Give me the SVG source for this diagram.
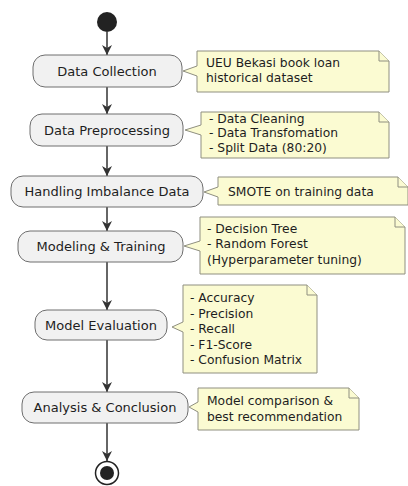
<svg xmlns="http://www.w3.org/2000/svg" width="408" height="486" viewBox="0 0 408 486">
<defs>
<style>
.act{fill:#f1f1f1;stroke:#6e6e6e;stroke-width:1}
.at{font-family:"DejaVu Sans","Open Sans",sans-serif;font-size:13px;fill:#1e1e1e;text-anchor:middle}
.note{fill:#fbfbd2;stroke:#8f8f80;stroke-width:1}
.nt{font-family:"DejaVu Sans","Open Sans",sans-serif;font-size:12.3px;fill:#1e1e1e}
.ln{stroke:#333;stroke-width:1.5;fill:none}
</style>
<marker id="ah" viewBox="0 0 10 10" refX="10" refY="5" markerWidth="10" markerHeight="10" markerUnits="userSpaceOnUse" orient="auto">
<path d="M0,0 L10,5 L0,10 L3,5 Z" fill="#333"/>
</marker>
</defs>
<rect width="408" height="486" fill="#ffffff"/>
<g id="connectors">
<line class="ln" x1="107" y1="32" x2="107" y2="55" marker-end="url(#ah)"/>
<line class="ln" x1="107" y1="87" x2="107" y2="114" marker-end="url(#ah)"/>
<line class="ln" x1="107" y1="146" x2="107" y2="176" marker-end="url(#ah)"/>
<line class="ln" x1="107" y1="207" x2="107" y2="231" marker-end="url(#ah)"/>
<line class="ln" x1="107" y1="262" x2="107" y2="310" marker-end="url(#ah)"/>
<line class="ln" x1="107" y1="340" x2="107" y2="392" marker-end="url(#ah)"/>
<line class="ln" x1="107" y1="423" x2="107" y2="461" marker-end="url(#ah)"/>
</g>
<g id="start"><circle cx="107" cy="22" r="10" fill="#222"/></g>
<g id="n1">
<rect class="act" x="33" y="55" width="149" height="32" rx="12"/>
<text class="at" x="107" y="76">Data Collection</text>
</g>
<g id="note1">
<path class="note" d="M197,51 H379 L389,61 V92 H197 V76 L183,71 L197,66 Z"/>
<path class="note" d="M379,51 V61 H389"/>
<text class="nt" x="206" y="67">UEU Bekasi book loan<tspan x="206" dy="15">historical dataset</tspan></text>
</g>
<g id="n2">
<rect class="act" x="30" y="114" width="153" height="32" rx="12"/>
<text class="at" x="107" y="135">Data Preprocessing</text>
</g>
<g id="note2">
<path class="note" d="M201,112 H379 L389,122 V158 H201 V135 L185,130 L201,125 Z"/>
<path class="note" d="M379,112 V122 H389"/>
<text class="nt" x="209" y="122.5">- Data Cleaning<tspan x="209" dy="14.5">- Data Transfomation</tspan><tspan x="209" dy="14.5">- Split Data (80:20)</tspan></text>
</g>
<g id="n3">
<rect class="act" x="11" y="176" width="192" height="31" rx="12"/>
<text class="at" x="107" y="196">Handling Imbalance Data</text>
</g>
<g id="note3">
<path class="note" d="M218,177 H398 L408,187 V205 H218 V197 L204,192 L218,187 Z"/>
<path class="note" d="M398,177 V187 H408"/>
<text class="nt" x="228" y="196">SMOTE on training data</text>
</g>
<g id="n4">
<rect class="act" x="18" y="231" width="165" height="31" rx="12"/>
<text class="at" x="101" y="251">Modeling &amp; Training</text>
</g>
<g id="note4">
<path class="note" d="M200,217 H395 L405,227 V274 H200 V251 L184,246 L200,241 Z"/>
<path class="note" d="M395,217 V227 H405"/>
<text class="nt" x="207" y="233">- Decision Tree<tspan x="207" dy="15">- Random Forest</tspan><tspan x="207" dy="16">(Hyperparameter  tuning)</tspan></text>
</g>
<g id="n5">
<rect class="act" x="35" y="310" width="132" height="30" rx="12"/>
<text class="at" x="101" y="330">Model Evaluation</text>
</g>
<g id="note5">
<path class="note" d="M183,285 H307 L317,295 V373 H183 V332 L172,327 L183,322 Z"/>
<path class="note" d="M307,285 V295 H317"/>
<text class="nt" x="190" y="302">- Accuracy<tspan x="190" dy="15.5">- Precision</tspan><tspan x="190" dy="15.5">- Recall</tspan><tspan x="190" dy="15.5">- F1-Score</tspan><tspan x="190" dy="15.5">- Confusion Matrix</tspan></text>
</g>
<g id="n6">
<rect class="act" x="22" y="392" width="166" height="31" rx="12"/>
<text class="at" x="105" y="412">Analysis &amp; Conclusion</text>
</g>
<g id="note6">
<path class="note" d="M198,388 H349 L359,398 V430 H198 V412 L189,407 L198,402 Z"/>
<path class="note" d="M349,388 V398 H359"/>
<text class="nt" x="207" y="405">Model comparison &amp;<tspan x="207" dy="16">best recommendation</tspan></text>
</g>
<g id="end">
<circle cx="107" cy="473" r="11.5" fill="#fff" stroke="#222" stroke-width="1.5"/>
<circle cx="107" cy="473" r="7" fill="#222"/>
</g>
</svg>
